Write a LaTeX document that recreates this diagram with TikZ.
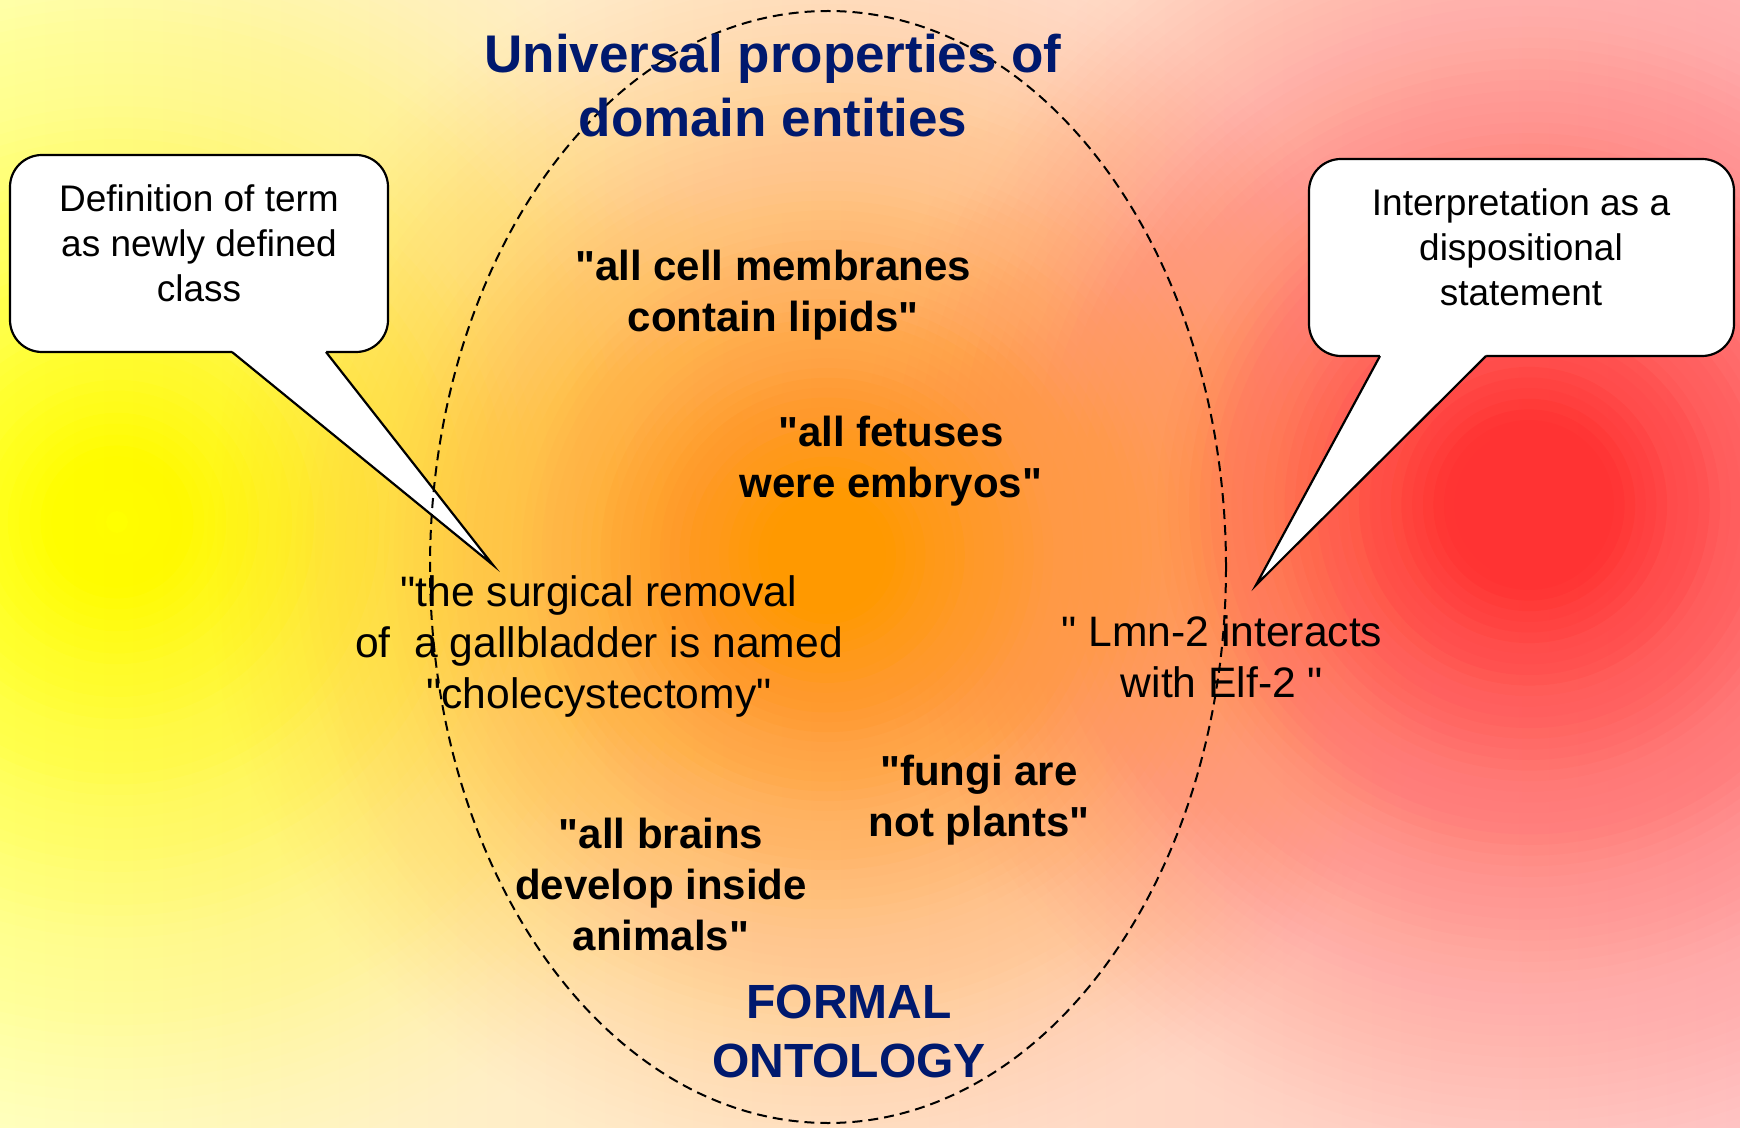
\documentclass[tikz,border=0pt]{standalone}
\usepackage{fontspec}
\setmainfont{Liberation Sans}
\definecolor{navy}{RGB}{0,25,110}
\definecolor{paleyellow}{RGB}{255,255,200}
\definecolor{cream}{RGB}{255,234,205}
\definecolor{palepink}{RGB}{255,196,196}
\definecolor{ylw}{RGB}{255,255,0}
\definecolor{orng}{RGB}{255,153,0}
\definecolor{redc}{RGB}{255,51,51}
\newcommand{\qq}{\textquotedbl}
\newcommand{\glow}[4]{% color, x, y, radius in pt
  \foreach \k in {1,...,64}{%
    \pgfmathsetmacro{\ta}{1-(\k-1)/64}%
    \pgfmathsetmacro{\tb}{1-\k/64}%
    \pgfmathsetmacro{\fa}{\ta*sqrt(\ta)}%
    \pgfmathsetmacro{\fb}{\tb*sqrt(\tb)}%
    \pgfmathsetmacro{\al}{1-(1-\fa)/(1-\fb)}%
    \pgfmathsetmacro{\rr}{#4*(\k/64)}%
    \fill[#1, fill opacity=\al] (#2,#3) circle [radius=\rr pt];
  }%
}
\tikzset{
  calloutbox/.style={draw=black, fill=white, line width=1.1pt, rounded corners=16pt},
  calloutline/.style={draw=black, line width=1.1pt, line join=miter},
  stmt/.style={inner sep=0pt, align=center, font=\fontsize{21}{25.5}\selectfont\bfseries},
  plain/.style={inner sep=0pt, align=center, font=\fontsize{21.3}{25.5}\selectfont},
  calltext/.style={inner sep=0pt, align=center, font=\fontsize{18.5}{22.5}\selectfont},
  heading/.style={inner sep=0pt, align=center, text=navy, font=\fontsize{26.5}{32}\selectfont\bfseries},
  formal/.style={inner sep=0pt, align=center, text=navy, font=\fontsize{24}{29.5}\selectfont\bfseries},
  domainline/.style={draw=black, line width=1pt, dash pattern=on 5pt off 3pt}
}
\begin{document}
\begin{tikzpicture}[x=0.5pt, y=-0.5pt]
\useasboundingbox (0,0) rectangle (1740,1128);
% background
\shade[left color=paleyellow, middle color=cream, right color=palepink] (0,0) rectangle (1740,1128);
\begin{scope}
\clip (0,0) rectangle (1740,1128);
\glow{ylw}{117}{522}{350}
\glow{redc}{1529}{505}{340}
\glow{orng}{827}{555}{315}
\end{scope}
% left callout
\draw[calloutbox] (10,155) rectangle (388,352);
\fill[white] (232,348) -- (232,352) -- (493,565) -- (326,352) -- (326,348) -- cycle;
\draw[calloutline] (232,352) -- (493,565) -- (326,352);
% right callout
\draw[calloutbox] (1309,159) rectangle (1734,356);
\fill[white] (1380,352) -- (1380,356) -- (1256,585) -- (1486,356) -- (1486,352) -- cycle;
\draw[calloutline] (1380,356) -- (1256,585) -- (1486,356);
% domain ellipse
\draw[domainline] (828,567) ellipse [x radius=199pt, y radius=278pt];
% texts
\node[heading] (title) at (773,85.5) {Universal properties of\\domain entities};
\node[calltext] (defn) at (199,243) {Definition of term\\as newly defined\\class};
\node[calltext] (interp) at (1521,247) {Interpretation as a\\dispositional\\statement};
\node[stmt] (cell) at (773,295) {\qq all cell membranes\\contain lipids\qq};
\node[stmt] (fetus) at (891,461) {\qq all fetuses\\were embryos\qq};
\node[plain] (surg) at (599,646) {\qq the surgical removal\\of\ \ a gallbladder is named\\\qq cholecystectomy\qq};
\node[plain] (lmn) at (1222,656.5) {\qq\ Lmn-2 interacts\\with Elf-2 \qq};
\node[stmt] (fungi) at (979,800) {\qq fungi are\\not plants\qq};
\node[stmt] (brain) at (661,884) {\qq all brains\\develop inside\\animals\qq};
\node[formal] (fo) at (849,1031.5) {FORMAL\\ONTOLOGY};
\end{tikzpicture}
\end{document}
